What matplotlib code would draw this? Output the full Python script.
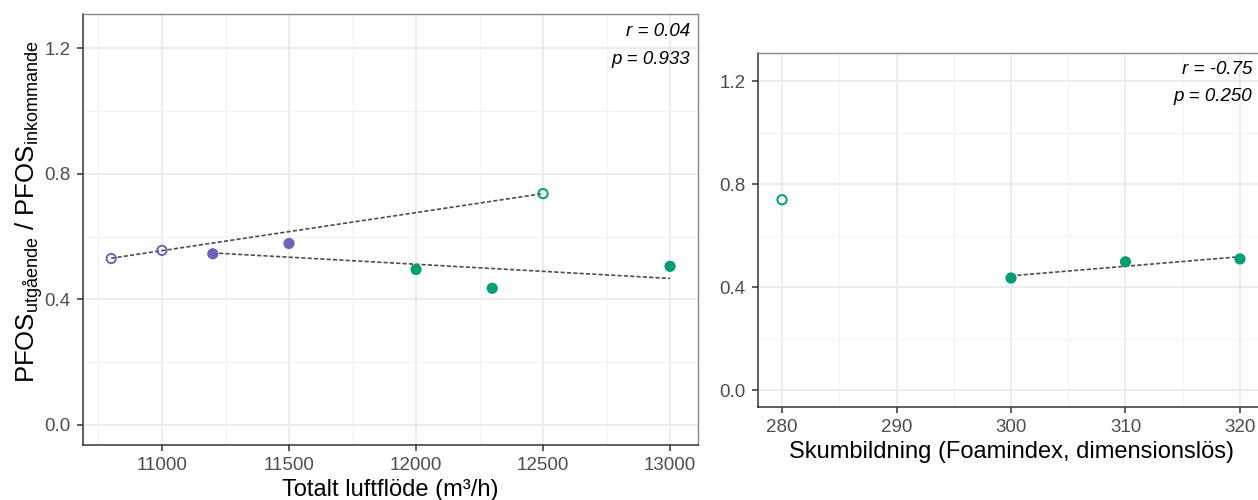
import numpy as np
import matplotlib
matplotlib.use('Agg')
import matplotlib.pyplot as plt
from matplotlib.ticker import MultipleLocator

plt.rcParams['font.family'] = ['Liberation Sans', 'DejaVu Sans']
plt.rcParams['mathtext.fontset'] = 'custom'
plt.rcParams['mathtext.rm'] = 'Liberation Sans'
plt.rcParams['mathtext.it'] = 'Liberation Sans:italic'

# vänster panel: totalt luftflöde
luft_oppen = [10800, 11000, 12500]
kvot_oppen = [0.530, 0.556, 0.737]
farg_oppen = ['#6f63b8', '#6f63b8', '#009e73']

luft_fylld = [11200, 11500, 12000, 12300, 13000]
kvot_fylld = [0.545, 0.578, 0.495, 0.435, 0.505]
farg_fylld = ['#6f63b8', '#6f63b8', '#009e73', '#009e73', '#009e73']

# höger panel: skumbildning
skum_oppen = [280]
skum_kvot_oppen = [0.740]
skum_fylld = [300, 310, 320]
skum_kvot_fylld = [0.436, 0.499, 0.510]

stat_vanster = ['r = 0.04', 'p = 0.933']
stat_hoger = ['r = -0.75', 'p = 0.250']

fig = plt.figure(figsize=(12.58, 5.0), dpi=100)
ax1 = fig.add_axes([83 / 1258, 55 / 500, 615 / 1258, 431 / 500])
ax2 = fig.add_axes([758 / 1258, 93 / 500, 506 / 1258, 354 / 500])


def stil(ax):
    ax.set_facecolor('white')
    ax.grid(True, which='major', color='#ebebeb', linewidth=1.3, zorder=0)
    ax.grid(True, which='minor', color='#f2f2f2', linewidth=0.8, zorder=0)
    ax.set_axisbelow(True)
    for s in ['top', 'right']:
        ax.spines[s].set_color('#888888')
        ax.spines[s].set_linewidth(1.0)
    for s in ['left', 'bottom']:
        ax.spines[s].set_color('#333333')
        ax.spines[s].set_linewidth(1.1)
    ax.tick_params(which='major', length=4, width=1.1, color='#333333',
                   labelsize=13.5, labelcolor='#4d4d4d', pad=5)
    ax.tick_params(which='minor', length=0)
    ax.yaxis.set_major_locator(MultipleLocator(0.4))
    ax.yaxis.set_minor_locator(MultipleLocator(0.2))
    ax.yaxis.set_major_formatter(matplotlib.ticker.FormatStrFormatter('%.1f'))
    ax.set_ylim(-0.065, 1.31)


def trendlinje(ax, x, y):
    k, m = np.polyfit(x, y, 1)
    xs = np.array([min(x), max(x)])
    ax.plot(xs, k * xs + m, color='#4d4d4d', linestyle=(0, (2.5, 1.3)),
            linewidth=1.2, zorder=2)


stil(ax1)
trendlinje(ax1, luft_oppen, kvot_oppen)
trendlinje(ax1, luft_fylld, kvot_fylld)
ax1.scatter(luft_oppen, kvot_oppen, s=45, facecolors='none', edgecolors=farg_oppen,
            linewidths=1.4, zorder=3)
ax1.scatter(luft_fylld, kvot_fylld, s=65, c=farg_fylld, edgecolors='none', zorder=3)
ax1.set_xlim(10689, 13110)
ax1.xaxis.set_major_locator(MultipleLocator(500))
ax1.xaxis.set_minor_locator(MultipleLocator(250))
ax1.set_xlabel('Totalt luftflöde (m³/h)', fontsize=17, labelpad=3)
ax1.set_ylabel(r'PFOS$_{\mathrm{utgående}}$ / PFOS$_{\mathrm{inkommande}}$',
               fontsize=18.5)
ax1.yaxis.set_label_coords(-0.062, 0.54)
ax1.text(0.987, 0.978, stat_vanster[0], transform=ax1.transAxes, ha='right', va='top',
         fontsize=13.5, style='italic')
ax1.text(0.987, 0.915, stat_vanster[1], transform=ax1.transAxes, ha='right', va='top',
         fontsize=13.5, style='italic')

stil(ax2)
trendlinje(ax2, skum_fylld, skum_kvot_fylld)
ax2.scatter(skum_oppen, skum_kvot_oppen, s=45, facecolors='none', edgecolors='#009e73',
            linewidths=1.4, zorder=3)
ax2.scatter(skum_fylld, skum_kvot_fylld, s=65, c='#009e73', edgecolors='none', zorder=3)
ax2.set_xlim(277.9, 322.1)
ax2.xaxis.set_major_locator(MultipleLocator(10))
ax2.xaxis.set_minor_locator(MultipleLocator(5))
ax2.set_xlabel('Skumbildning (Foamindex, dimensionslös)', fontsize=17, labelpad=3)
ax2.text(0.977, 0.978, stat_hoger[0], transform=ax2.transAxes, ha='right', va='top',
         fontsize=13.5, style='italic')
ax2.text(0.977, 0.900, stat_hoger[1], transform=ax2.transAxes, ha='right', va='top',
         fontsize=13.5, style='italic')

fig.savefig('out.png', dpi=100)
